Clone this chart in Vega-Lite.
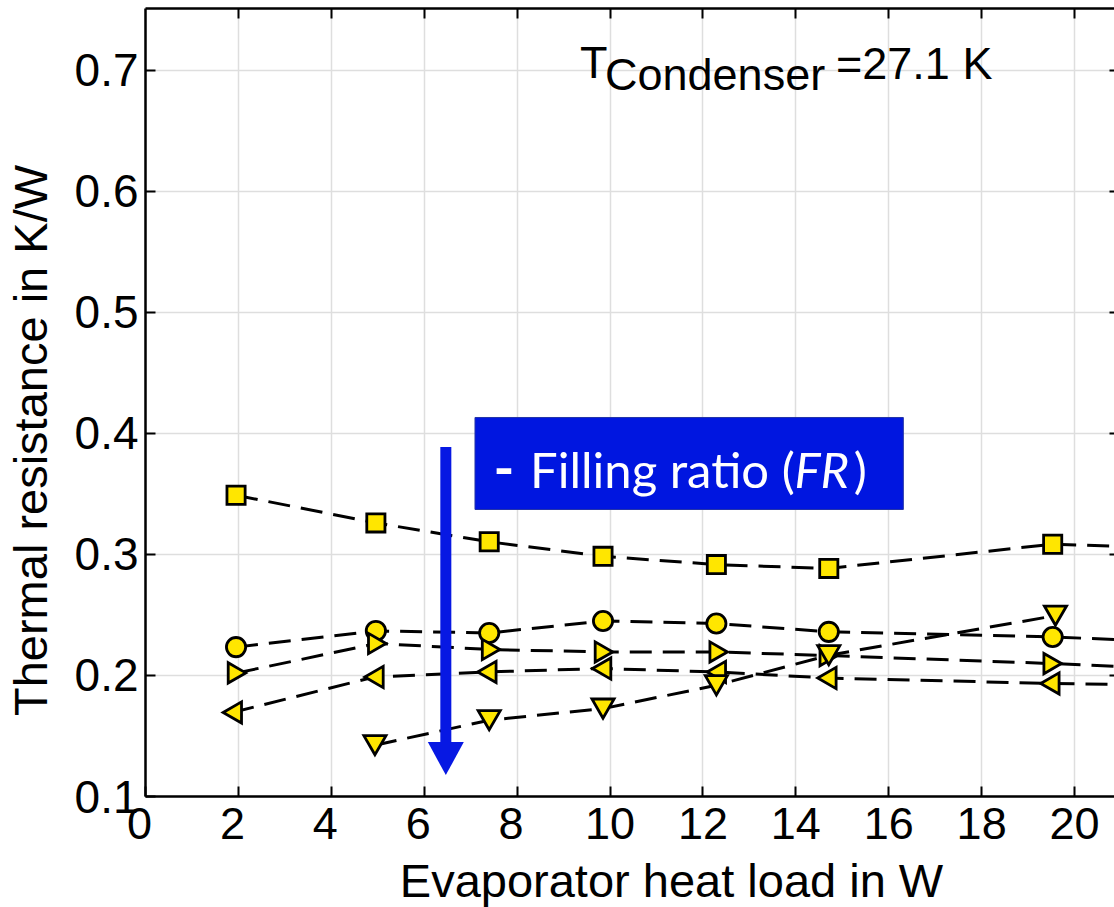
{
  "$schema": "https://vega.github.io/schema/vega-lite/v6.json",
  "width": 969,
  "height": 788,
  "autosize": {"type": "none"},
  "padding": {"left": 145, "top": 8, "right": 0, "bottom": 111},
  "background": "white",
  "config": {"view": {"stroke": null}, "font": "Liberation Sans"},
  "datasets": {
    "series": [
      {"series": "S1", "load": 1.96, "resistance": 0.3485},
      {"series": "S1", "load": 4.97, "resistance": 0.3256},
      {"series": "S1", "load": 7.41, "resistance": 0.310},
      {"series": "S1", "load": 9.86, "resistance": 0.298},
      {"series": "S1", "load": 12.3, "resistance": 0.2912},
      {"series": "S1", "load": 14.72, "resistance": 0.288},
      {"series": "S1", "load": 19.54, "resistance": 0.308},
      {"series": "S1", "load": 24.5, "resistance": 0.302},
      {"series": "S2", "load": 1.96, "resistance": 0.223},
      {"series": "S2", "load": 4.97, "resistance": 0.2364},
      {"series": "S2", "load": 7.41, "resistance": 0.2347},
      {"series": "S2", "load": 9.86, "resistance": 0.2446},
      {"series": "S2", "load": 12.3, "resistance": 0.2425},
      {"series": "S2", "load": 14.72, "resistance": 0.2356},
      {"series": "S2", "load": 19.54, "resistance": 0.2314},
      {"series": "S2", "load": 24.5, "resistance": 0.2235},
      {"series": "S3", "load": 1.98, "resistance": 0.2017},
      {"series": "S3", "load": 5.0, "resistance": 0.226},
      {"series": "S3", "load": 7.45, "resistance": 0.221},
      {"series": "S3", "load": 9.88, "resistance": 0.219},
      {"series": "S3", "load": 12.35, "resistance": 0.219},
      {"series": "S3", "load": 14.72, "resistance": 0.216},
      {"series": "S3", "load": 19.54, "resistance": 0.2094},
      {"series": "S3", "load": 24.5, "resistance": 0.201},
      {"series": "S4", "load": 1.88, "resistance": 0.169},
      {"series": "S4", "load": 4.93, "resistance": 0.1983},
      {"series": "S4", "load": 7.36, "resistance": 0.2025},
      {"series": "S4", "load": 9.83, "resistance": 0.2053},
      {"series": "S4", "load": 12.3, "resistance": 0.2025},
      {"series": "S4", "load": 14.68, "resistance": 0.1975},
      {"series": "S4", "load": 19.48, "resistance": 0.193},
      {"series": "S4", "load": 24.5, "resistance": 0.1905},
      {"series": "S5", "load": 4.95, "resistance": 0.142},
      {"series": "S5", "load": 7.41, "resistance": 0.1626},
      {"series": "S5", "load": 9.86, "resistance": 0.1722},
      {"series": "S5", "load": 12.3, "resistance": 0.1915},
      {"series": "S5", "load": 14.72, "resistance": 0.2163},
      {"series": "S5", "load": 19.6, "resistance": 0.249}
    ],
    "notes": [
      {"id": "T", "text": "T", "x": 9.365, "y": 0.6929},
      {"id": "sub", "text": "Condenser", "x": 9.903, "y": 0.6832},
      {"id": "eq", "text": "=27.1 K", "x": 14.876, "y": 0.6923},
      {"id": "dash", "text": "-", "x": 7.729, "y": 0.3543},
      {"id": "fill", "text": "Filling ratio (", "x": 8.289, "y": 0.3543},
      {"id": "fr", "text": "FR", "x": 13.98, "y": 0.3543},
      {"id": "paren", "text": ")", "x": 15.26, "y": 0.3543}
    ],
    "arrow": [{"x": 6.476, "y_top": 0.3884, "y_base": 0.142, "y_head": 0.1309}],
    "box": [{"x1": 7.104, "x2": 16.325, "y1": 0.4127, "y2": 0.3367}]
  },
  "layer": [
    {
      "data": {"name": "series"},
      "mark": {"type": "line", "clip": true, "color": "black", "strokeWidth": 3, "strokeDash": [22, 11]},
      "encoding": {
        "x": {"field": "load", "type": "quantitative", "scale": {"domain": [0, 20.86], "nice": false, "zero": false},
          "axis": {"orient": "bottom", "values": [0, 2, 4, 6, 8, 10, 12, 14, 16, 18, 20], "grid": true, "gridColor": "#dedede", "gridWidth": 1.5,
            "domain": true, "domainColor": "black", "domainWidth": 2.5, "ticks": true, "tickSize": -10, "tickColor": "black", "tickWidth": 2,
            "labelFont": "Liberation Sans", "labelFontSize": 45, "labelColor": "black", "labelPadding": 16, "labelFlush": false, "labelOverlap": false, "labelBound": false,
            "labelOffset": {"condition": {"test": "datum.value < 10", "value": -6}, "value": 0},
            "title": "Evaporator heat load in W", "titleFont": "Liberation Sans", "titleFontSize": 47, "titleFontWeight": "normal", "titleColor": "black",
            "titleX": 526, "titleY": 100, "titleBaseline": "alphabetic", "titleAlign": "center"}},
        "y": {"field": "resistance", "type": "quantitative", "scale": {"domain": [0.1, 0.751], "nice": false, "zero": false},
          "axis": {"orient": "left", "values": [0.1, 0.2, 0.3, 0.4, 0.5, 0.6, 0.7], "format": ".1f", "grid": true, "gridColor": "#dedede", "gridWidth": 1.5,
            "domain": true, "domainColor": "black", "domainWidth": 2.5, "ticks": true, "tickSize": -10, "tickColor": "black", "tickWidth": 2,
            "labelFont": "Liberation Sans", "labelFontSize": 46, "labelColor": "black", "labelPadding": 17, "labelOffset": 2, "labelFlush": false, "labelOverlap": false, "labelBound": false,
            "title": "Thermal resistance in K/W", "titleFont": "Liberation Sans", "titleFontSize": 47, "titleFontWeight": "normal", "titleColor": "black",
            "titleX": -99, "titleY": 432, "titleAngle": 270, "titleBaseline": "alphabetic", "titleAlign": "center"}},
        "detail": {"field": "series", "type": "nominal"}
      }
    },
    {
      "data": {"name": "series"},
      "mark": {"type": "point", "filled": true, "clip": true, "fill": "#ffe600", "stroke": "black", "strokeWidth": 2.8, "opacity": 1},
      "encoding": {
        "x": {"field": "load", "type": "quantitative", "scale": {"domain": [0, 20.86], "nice": false, "zero": false},
          "axis": {"orient": "top", "values": [2, 4, 6, 8, 10, 12, 14, 16, 18, 20], "grid": false, "domain": true, "domainColor": "black", "domainWidth": 2.5,
            "ticks": true, "tickSize": -10, "tickColor": "black", "tickWidth": 2, "labels": false, "title": null}},
        "y": {"field": "resistance", "type": "quantitative", "scale": {"domain": [0.1, 0.751], "nice": false, "zero": false},
          "axis": {"orient": "right", "values": [0.2, 0.3, 0.4, 0.5, 0.6, 0.7], "grid": false, "domain": false,
            "ticks": true, "tickSize": -5, "tickColor": "black", "tickWidth": 2, "labels": false, "title": null}},
        "shape": {"field": "series", "type": "nominal", "scale": {"domain": ["S1", "S2", "S3", "S4", "S5"], "range": ["square", "circle", "triangle-right", "triangle-left", "triangle-down"]}, "legend": null},
        "size": {"field": "series", "type": "ordinal", "scale": {"domain": ["S1", "S2", "S3", "S4", "S5"], "range": [330, 490, 680, 680, 640]}, "legend": null}
      }
    },
    {
      "data": {"name": "box"},
      "mark": {"type": "rect", "fill": "#0016e0", "stroke": "#2434a8", "strokeWidth": 1},
      "encoding": {
        "x": {"field": "x1", "type": "quantitative", "scale": {"domain": [0, 20.86], "nice": false, "zero": false}, "axis": null},
        "x2": {"field": "x2"},
        "y": {"field": "y1", "type": "quantitative", "scale": {"domain": [0.1, 0.751], "nice": false, "zero": false}, "axis": null},
        "y2": {"field": "y2"}
      }
    },
    {
      "data": {"name": "arrow"},
      "mark": {"type": "rule", "color": "#0718e3", "strokeWidth": 11},
      "encoding": {
        "x": {"field": "x", "type": "quantitative", "scale": {"domain": [0, 20.86], "nice": false, "zero": false}, "axis": null},
        "y": {"field": "y_top", "type": "quantitative", "scale": {"domain": [0.1, 0.751], "nice": false, "zero": false}, "axis": null},
        "y2": {"field": "y_base"}
      }
    },
    {
      "data": {"name": "arrow"},
      "mark": {"type": "point", "filled": true, "shape": "M-1,-0.917L1,-0.917L0,0.917Z", "size": 1296, "color": "#0718e3", "opacity": 1, "strokeWidth": 0},
      "encoding": {
        "x": {"field": "x", "type": "quantitative", "scale": {"domain": [0, 20.86], "nice": false, "zero": false}, "axis": null},
        "y": {"field": "y_head", "type": "quantitative", "scale": {"domain": [0.1, 0.751], "nice": false, "zero": false}, "axis": null}
      }
    },
    {
      "data": {"name": "notes"},
      "transform": [{"filter": "datum.id === 'T' || datum.id === 'sub' || datum.id === 'eq'"}],
      "mark": {"type": "text", "font": "Liberation Sans", "fontSize": 45, "color": "black", "align": "left", "baseline": "alphabetic"},
      "encoding": {
        "x": {"field": "x", "type": "quantitative", "scale": {"domain": [0, 20.86], "nice": false, "zero": false}, "axis": null},
        "y": {"field": "y", "type": "quantitative", "scale": {"domain": [0.1, 0.751], "nice": false, "zero": false}, "axis": null},
        "text": {"field": "text"}
      }
    },
    {
      "data": {"name": "notes"},
      "transform": [{"filter": "datum.id === 'dash'"}],
      "mark": {"type": "text", "font": "Lato", "fontSize": 56, "fontWeight": "bold", "color": "white", "align": "center", "baseline": "alphabetic"},
      "encoding": {
        "x": {"field": "x", "type": "quantitative", "scale": {"domain": [0, 20.86], "nice": false, "zero": false}, "axis": null},
        "y": {"field": "y", "type": "quantitative", "scale": {"domain": [0.1, 0.751], "nice": false, "zero": false}, "axis": null},
        "text": {"field": "text"}
      }
    },
    {
      "data": {"name": "notes"},
      "transform": [{"filter": "datum.id === 'fill' || datum.id === 'paren'"}],
      "mark": {"type": "text", "font": "Lato", "fontSize": 49, "color": "white", "align": "left", "baseline": "alphabetic"},
      "encoding": {
        "x": {"field": "x", "type": "quantitative", "scale": {"domain": [0, 20.86], "nice": false, "zero": false}, "axis": null},
        "y": {"field": "y", "type": "quantitative", "scale": {"domain": [0.1, 0.751], "nice": false, "zero": false}, "axis": null},
        "text": {"field": "text"}
      }
    },
    {
      "data": {"name": "notes"},
      "transform": [{"filter": "datum.id === 'fr'"}],
      "mark": {"type": "text", "font": "Lato", "fontSize": 49, "fontStyle": "italic", "color": "white", "align": "left", "baseline": "alphabetic"},
      "encoding": {
        "x": {"field": "x", "type": "quantitative", "scale": {"domain": [0, 20.86], "nice": false, "zero": false}, "axis": null},
        "y": {"field": "y", "type": "quantitative", "scale": {"domain": [0.1, 0.751], "nice": false, "zero": false}, "axis": null},
        "text": {"field": "text"}
      }
    }
  ],
  "resolve": {"axis": {"x": "independent", "y": "independent"}}
}
